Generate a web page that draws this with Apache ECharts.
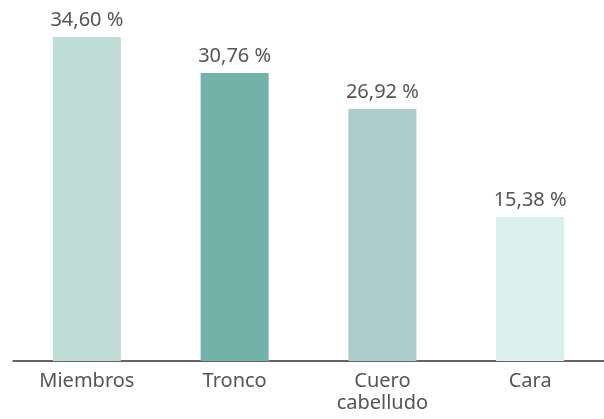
<!DOCTYPE html>
<html>
<head>
<meta charset="utf-8">
<script src="https://cdn.jsdelivr.net/npm/echarts@6/dist/echarts.min.js"></script>
<style>html,body{margin:0;padding:0;background:#fff;}#c{width:604px;height:419px;}</style>
</head>
<body>
<div id="c"></div>
<script>
const categories = ['Miembros', 'Tronco', 'Cuero\ncabelludo', 'Cara'];
const values = [34.60, 30.76, 26.92, 15.38];
const colors = ['#bfdcd6', '#72b3a9', '#accdcb', '#dbefec'];

const chart = echarts.init(document.getElementById('c'));
chart.setOption({
  animation: false,
  grid: { left: 13, right: -1, top: 37, bottom: 58, containLabel: false },
  xAxis: {
    type: 'category',
    data: categories,
    axisLine: { show: true, lineStyle: { color: '#333', width: 1.5 } },
    axisTick: { show: false },
    axisLabel: { color: '#555', fontSize: 20, fontFamily: 'Noto Sans', margin: 9, lineHeight: 22, interval: 0 }
  },
  yAxis: {
    type: 'value', min: 0, max: 34.6,
    show: false, splitLine: { show: false }
  },
  series: [{
    type: 'bar',
    barWidth: 68,
    data: values.map((v, i) => ({ value: v, itemStyle: { color: colors[i] } })),
    label: {
      show: true, position: 'top', distance: 7,
      color: '#555', fontSize: 20, fontFamily: 'Noto Sans',
      formatter: p => p.value.toFixed(2).replace('.', ',') + ' %'
    }
  }]
});
</script>
</body>
</html>
